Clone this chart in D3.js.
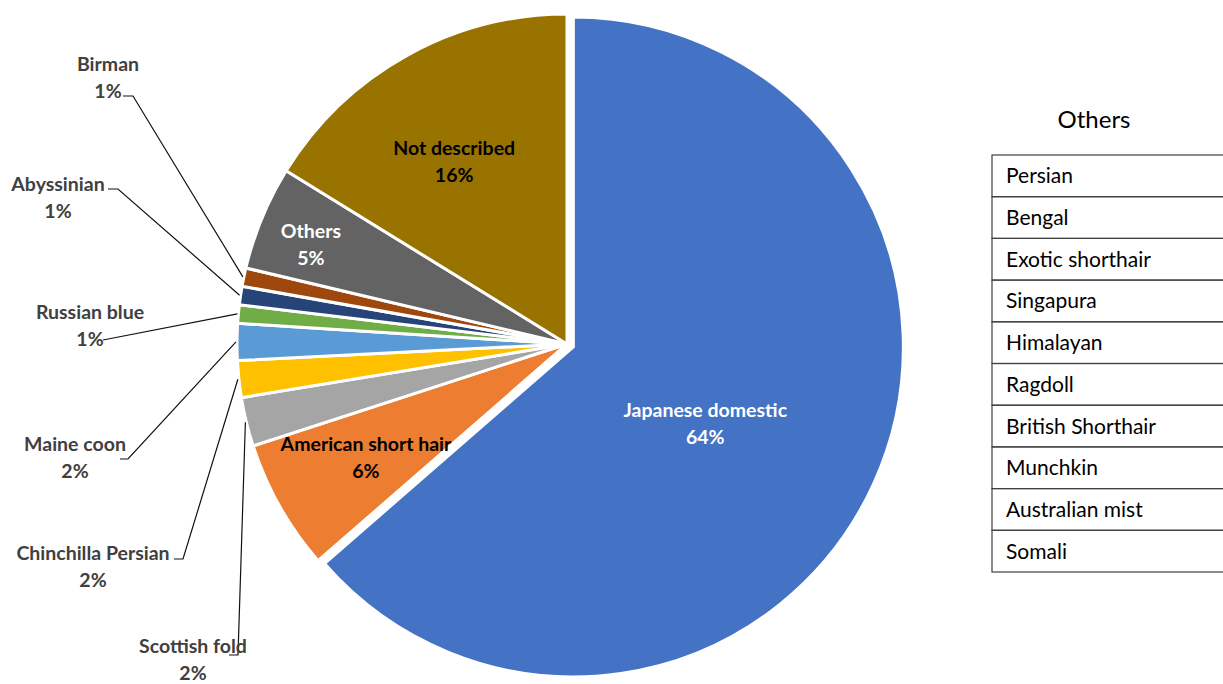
<!DOCTYPE html>
<html>
<head>
<meta charset="utf-8">
<script src="https://cdn.jsdelivr.net/npm/d3@7"></script>
<style>
  body { margin: 0; background: #fff; }
  svg { display: block; font-family: Lato, "Open Sans", sans-serif; }
</style>
</head>
<body>
<svg id="chart" width="1223" height="684"></svg>
<script>
// Cat breed composition (percent of cases)
const breeds = ["Japanese domestic", "American short hair", "Scottish fold", "Chinchilla Persian",
  "Maine coon", "Russian blue", "Abyssinian", "Birman", "Others", "Not described"];
const shares = [63.6, 6.4, 2.4, 1.8, 1.8, 0.9, 0.9, 0.9, 5.1, 16.2];
const sliceColors = ["#4472C4", "#ED7D31", "#A5A5A5", "#FFC000", "#5B9BD5",
  "#70AD47", "#264478", "#9E480E", "#636363", "#997300"];

// Breeds grouped under "Others"
const otherBreeds = ["Persian", "Bengal", "Exotic shorthair", "Singapura", "Himalayan",
  "Ragdoll", "British Shorthair", "Munchkin", "Australian mist", "Somali"];

const svg = d3.select("#chart");
const cx = 567, cy = 344, R = 330;
const explode = { "Japanese domestic": 7 };
const labelSize = 19.5;

// Labels drawn inside slices: polar placement (degrees, fraction of radius) and text colour
const insideLabels = {
  "Japanese domestic": { angle: 120.3, frac: 0.463, color: "#ffffff" },
  "American short hair": { angle: 240.5, frac: 0.70, color: "#000000" },
  "Not described": { angle: 328.2, frac: 0.649, color: "#000000" },
  "Others": { angle: 291.3, frac: 0.833, color: "#ffffff" }
};

// Callout labels outside the pie, with leader line elbows
const callouts = {
  "Birman": { x: 108, y: 64, elbow: [[123, 96], [133, 96]] },
  "Abyssinian": { x: 58, y: 184, elbow: [[108, 189], [118, 189]] },
  "Russian blue": { x: 90, y: 312, elbow: [[103, 340]] },
  "Maine coon": { x: 75, y: 444, elbow: [[120, 459], [128, 459]] },
  "Chinchilla Persian": { x: 93, y: 553, elbow: [[174, 559], [183, 559]] },
  "Scottish fold": { x: 193, y: 646, elbow: [[229, 655], [238, 655]] }
};

const data = breeds.map((b, i) => ({ breed: b, share: shares[i], color: sliceColors[i] }));
const total = d3.sum(shares);
const pct = v => Math.round(v / total * 100) + "%";

const pie = d3.pie().sort(null).value(d => d.share);
const arcs = pie(data);
const arc = d3.arc().innerRadius(0).outerRadius(R);
const polar = (a, r) => [Math.sin(a) * r, -Math.cos(a) * r];

const g = svg.append("g").attr("transform", `translate(${cx},${cy})`);

const offsetOf = d => {
  const e = explode[d.data.breed] || 0;
  const mid = (d.startAngle + d.endAngle) / 2;
  return polar(mid, e);
};

g.selectAll("path.slice")
  .data(arcs)
  .join("path")
  .attr("class", "slice")
  .attr("d", arc)
  .attr("fill", d => d.data.color)
  .attr("stroke", "#ffffff")
  .attr("stroke-width", 3)
  .attr("stroke-linejoin", "round")
  .attr("transform", d => `translate(${offsetOf(d)})`);

// Inside labels
const lineGap = 27;
const base = 7;
arcs.filter(d => insideLabels[d.data.breed]).forEach(d => {
  const cfg = insideLabels[d.data.breed];
  const [ox, oy] = offsetOf(d);
  const [x, y] = polar(cfg.angle * Math.PI / 180, cfg.frac * R);
  const t = g.append("text")
    .attr("text-anchor", "middle")
    .attr("font-weight", 700)
    .attr("font-size", labelSize)
    .attr("fill", cfg.color);
  t.append("tspan").attr("x", x + ox).attr("y", y + oy - lineGap / 2 + base).text(d.data.breed);
  t.append("tspan").attr("x", x + ox).attr("y", y + oy + lineGap / 2 + base).text(pct(d.data.share));
});

// Callout labels and leader lines
const callG = svg.append("g");
arcs.filter(d => callouts[d.data.breed]).forEach(d => {
  const cfg = callouts[d.data.breed];
  const mid = (d.startAngle + d.endAngle) / 2;
  const [ex, ey] = polar(mid, R + 1);
  const pts = cfg.elbow.concat([[cx + ex, cy + ey]]);
  callG.append("path")
    .attr("d", d3.line()(pts))
    .attr("fill", "none")
    .attr("stroke", "#111111")
    .attr("stroke-width", 1.2);
  const t = callG.append("text")
    .attr("text-anchor", "middle")
    .attr("font-weight", 700)
    .attr("font-size", labelSize)
    .attr("fill", "#404040");
  t.append("tspan").attr("x", cfg.x).attr("y", cfg.y + base).text(d.data.breed);
  t.append("tspan").attr("x", cfg.x).attr("y", cfg.y + base + lineGap).text(pct(d.data.share));
});

// Table listing the breeds counted in "Others"
const tableX = 992, tableTop = 155, rowH = 41.7, tableRight = 1240;
const rowScale = d3.scaleBand().domain(otherBreeds).range([tableTop, tableTop + rowH * otherBreeds.length]);
const tableG = svg.append("g");
tableG.append("text")
  .attr("x", 1094).attr("y", 128)
  .attr("text-anchor", "middle")
  .attr("font-size", 24)
  .attr("fill", "#000000")
  .text("Others");
tableG.selectAll("rect.row")
  .data(otherBreeds)
  .join("rect")
  .attr("class", "row")
  .attr("x", tableX)
  .attr("y", d => rowScale(d))
  .attr("width", tableRight - tableX)
  .attr("height", rowScale.bandwidth())
  .attr("fill", "none")
  .attr("stroke", "#404040")
  .attr("stroke-width", 1.2);
tableG.selectAll("text.row")
  .data(otherBreeds)
  .join("text")
  .attr("class", "row")
  .attr("x", 1006)
  .attr("y", d => rowScale(d) + rowScale.bandwidth() / 2 + 7.5)
  .attr("font-size", 21)
  .attr("fill", "#000000")
  .text(d => d);
</script>
</body>
</html>
